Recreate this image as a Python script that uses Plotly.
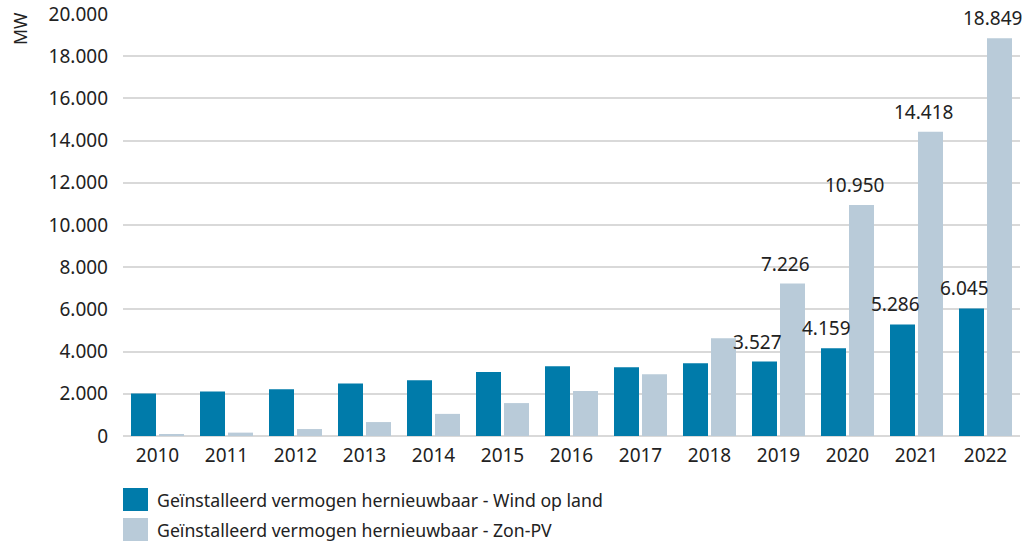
import plotly.graph_objects as go

years = ["2010", "2011", "2012", "2013", "2014", "2015", "2016",
         "2017", "2018", "2019", "2020", "2021", "2022"]
wind = [2009, 2110, 2210, 2490, 2640, 3034, 3310, 3260, 3450, 3527, 4159, 5286, 6045]
solar = [90, 160, 330, 660, 1048, 1560, 2135, 2930, 4630, 7226, 10950, 14418, 18849]
labelled_years = ["2019", "2020", "2021", "2022"]

wind_name = "Geïnstalleerd vermogen hernieuwbaar - Wind op land"
solar_name = "Geïnstalleerd vermogen hernieuwbaar - Zon-PV"
wind_color = "#007BAA"
solar_color = "#B9CBD9"
text_color = "#222222"
FONT = "Noto Sans"
NUM_SIZE = 19
TXT_SIZE = 17.7

# plot-area geometry (pixels)
L, R, T, B = 123, 12, 14, 106
PW = 1032 - L - R
PH = 542 - T - B

BAR_W = 25 / 69
WIND_OFF = -26.5 / 69
SOLAR_OFF = 1.5 / 69

fig = go.Figure()
fig.add_trace(go.Bar(x=years, y=wind, name=wind_name, marker_color=wind_color,
                     width=BAR_W, offset=WIND_OFF, showlegend=False,
                     marker_line_width=0))
fig.add_trace(go.Bar(x=years, y=solar, name=solar_name, marker_color=solar_color,
                     width=BAR_W, offset=SOLAR_OFF, showlegend=False,
                     marker_line_width=0))


def fmt(v):
    return f"{v:,}".replace(",", ".")


annotations = []
for i, (yr, w, s) in enumerate(zip(years, wind, solar)):
    if yr in labelled_years:
        for val, off in ((w, WIND_OFF), (s, SOLAR_OFF)):
            annotations.append(dict(
                x=i + off + BAR_W / 2, y=val, xref="x", yref="y", text=fmt(val),
                showarrow=False, yanchor="bottom", xanchor="center",
                xshift=-7, yshift=5,
                font=dict(family=FONT, size=NUM_SIZE, color=text_color)))

# axis title
annotations.append(dict(x=(20 - L) / PW, y=(T + PH - 29) / PH, xref="paper", yref="paper",
                        text="MW", showarrow=False, textangle=-90,
                        xanchor="center", yanchor="middle",
                        font=dict(family=FONT, size=TXT_SIZE, color=text_color)))

# custom legend
shapes = []
for k, (name, col) in enumerate(((wind_name, wind_color), (solar_name, solar_color))):
    yc = 499.5 + k * 30
    shapes.append(dict(type="rect", xref="paper", yref="paper",
                       x0=(123 - L) / PW, x1=(148 - L) / PW,
                       y0=(T + PH - (yc - 11.5)) / PH, y1=(T + PH - (yc + 11.5)) / PH,
                       fillcolor=col, line=dict(width=0)))
    annotations.append(dict(x=(155 - L) / PW, y=(T + PH - yc) / PH,
                            xref="paper", yref="paper", text=name,
                            showarrow=False, xanchor="left", yanchor="middle",
                            font=dict(family=FONT, size=TXT_SIZE, color=text_color)))

fig.update_layout(
    width=1032, height=542,
    margin=dict(l=L, r=R, t=T, b=B, autoexpand=False),
    paper_bgcolor="white", plot_bgcolor="white",
    barmode="overlay",
    separators=",.",
    font=dict(family=FONT, size=TXT_SIZE, color=text_color),
    annotations=annotations,
    shapes=shapes,
    showlegend=False,
)
fig.update_xaxes(type="category", range=[-0.5, 12.5], showgrid=False,
                 showline=False, ticks="", automargin=False, ticklabelstandoff=6,
                 tickfont=dict(size=NUM_SIZE, color=text_color))
fig.update_yaxes(range=[0, 20000], dtick=2000, tickformat=",.0f",
                 showgrid=True, gridcolor="#D9D9D9", gridwidth=1.5,
                 zeroline=True, zerolinecolor="#D9D9D9", zerolinewidth=1.5,
                 showline=False, ticks="", ticklabelstandoff=14, automargin=False,
                 tickfont=dict(size=NUM_SIZE, color=text_color))

fig.write_html("out.html",
               config={"displayModeBar": False},
               post_script="document.body.style.margin='0';document.body.style.overflow='hidden';")
